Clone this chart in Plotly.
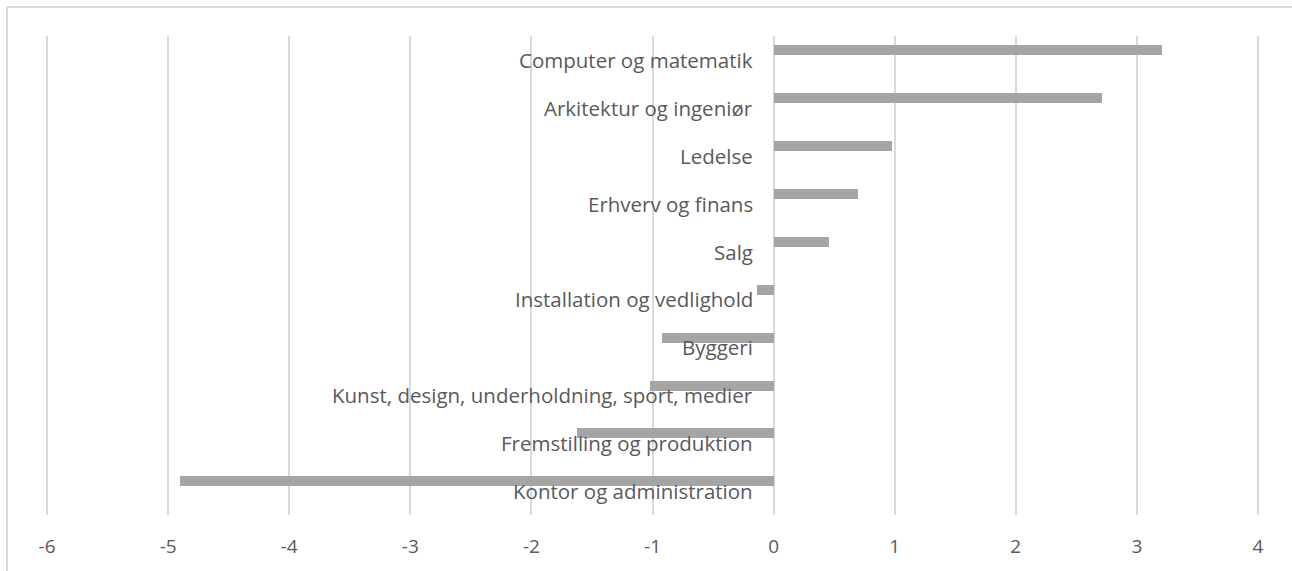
import plotly.graph_objects as go

# Data (Excel order: bottom to top)
categories = [
    "Kontor og administration",
    "Fremstilling og produktion",
    "Kunst, design, underholdning, sport, medier",
    "Byggeri",
    "Installation og vedlighold",
    "Salg",
    "Erhverv og finans",
    "Ledelse",
    "Arkitektur og ingeniør",
    "Computer og matematik",
]
values = [-4.90, -1.62, -1.02, -0.92, -0.14, 0.46, 0.70, 0.98, 2.71, 3.21]
tick_vals = [-6, -5, -4, -3, -2, -1, 0, 1, 2, 3, 4]

W, H = 1292, 571
L, R, T, B = 41, 28, 36, 56
PW, PH = W - L - R, H - T - B
FONT = "'Open Sans', Lato, sans-serif"

fig = go.Figure()
fig.add_trace(go.Bar(
    x=values, y=categories, orientation="h",
    marker=dict(color="#a5a5a5", line=dict(width=0)),
    width=0.21, offset=0.098, hoverinfo="x+y",
))

for c in categories:
    fig.add_annotation(
        x=0, y=c, xref="x", yref="y", text=c, showarrow=False,
        xanchor="right", yanchor="middle", xshift=-19, yshift=0,
        font=dict(family=FONT, size=20.5, color="#595959"),
    )

fig.update_xaxes(
    range=[-6.05, 4.05], tickvals=tick_vals, ticktext=[str(v) for v in tick_vals],
    showgrid=True, gridcolor="#d9d9d9", gridwidth=2, zeroline=False,
    showline=False, ticks="", ticklabelstandoff=18,
    tickfont=dict(family=FONT, size=19, color="#595959"),
    fixedrange=True,
)
fig.update_yaxes(
    categoryorder="array", categoryarray=categories, type="category",
    range=[-0.5, len(categories) - 0.5],
    showticklabels=False, showgrid=False, zeroline=False, showline=False, ticks="",
    fixedrange=True,
)

# Chart area border (top and left visible)
bx = (7 - L) / PW
by = (H - B - 7) / PH
fig.add_shape(type="line", xref="paper", yref="paper",
              x0=bx, x1=(W + 10 - L) / PW, y0=by, y1=by,
              line=dict(color="#d9d9d9", width=2))
fig.add_shape(type="line", xref="paper", yref="paper",
              x0=bx, x1=bx, y0=by, y1=-(B + 10) / PH,
              line=dict(color="#d9d9d9", width=2))

fig.update_layout(
    width=W, height=H,
    margin=dict(l=L, r=R, t=T, b=B),
    paper_bgcolor="white", plot_bgcolor="white",
    showlegend=False, bargap=0,
)
fig.write_html("out.html", config={"displayModeBar": False},
               post_script="document.body.style.margin='0';")
